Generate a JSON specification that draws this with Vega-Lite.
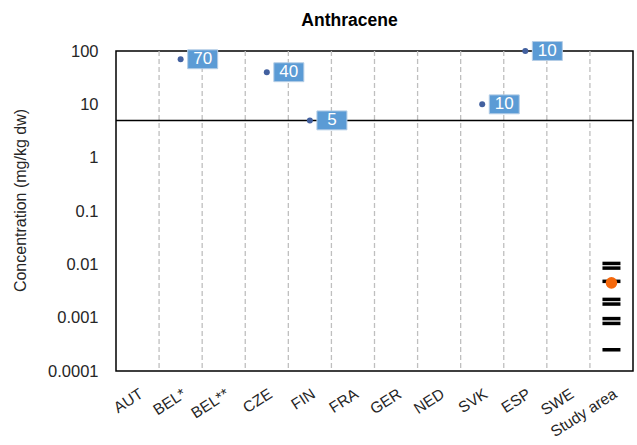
{
  "$schema": "https://vega.github.io/schema/vega-lite/v6.json",
  "autosize": "none",
  "width": 517,
  "height": 320,
  "padding": {"left": 116, "top": 51, "right": 4, "bottom": 74},
  "background": "white",
  "config": {
    "font": "Liberation Sans",
    "view": {"stroke": "black", "strokeWidth": 1.5}
  },
  "title": {"text": "Anthracene", "fontSize": 17.5, "fontWeight": "bold", "color": "black", "anchor": "middle", "dx": -25, "offset": 10},
  "datasets": {
    "cats": [
      {"country": "AUT"}, {"country": "BEL*"}, {"country": "BEL**"}, {"country": "CZE"},
      {"country": "FIN"}, {"country": "FRA"}, {"country": "GER"}, {"country": "NED"},
      {"country": "SVK"}, {"country": "ESP"}, {"country": "SWE"}, {"country": "Study area"}
    ],
    "limits": [
      {"country": "BEL*", "value": 70, "label": "70"},
      {"country": "CZE", "value": 40, "label": "40"},
      {"country": "FIN", "value": 5, "label": "5"},
      {"country": "SVK", "value": 10, "label": "10"},
      {"country": "ESP", "value": 100, "label": "10"}
    ],
    "samples": [
      {"country": "Study area", "value": 0.0104},
      {"country": "Study area", "value": 0.0085},
      {"country": "Study area", "value": 0.0048},
      {"country": "Study area", "value": 0.0022},
      {"country": "Study area", "value": 0.0018},
      {"country": "Study area", "value": 0.00096},
      {"country": "Study area", "value": 0.00078},
      {"country": "Study area", "value": 0.00025}
    ],
    "mean": [{"country": "Study area", "value": 0.0045}],
    "threshold": [{"value": 5}]
  },
  "layer": [
    {
      "data": {"name": "cats"},
      "transform": [{"filter": "datum.country !== 'AUT'"}],
      "mark": {"type": "rule", "color": "#BFBFBF", "strokeWidth": 1.3, "strokeDash": [5, 3]},
      "encoding": {
        "x": {"field": "country", "type": "nominal", "bandPosition": 0,
              "scale": {"domain": ["AUT", "BEL*", "BEL**", "CZE", "FIN", "FRA", "GER", "NED", "SVK", "ESP", "SWE", "Study area"], "paddingInner": 0, "paddingOuter": 0},
              "axis": {"title": null, "labelAngle": -33, "labelAlign": "right", "labelBaseline": "top", "labelPadding": 15, "ticks": false, "domain": false, "grid": false, "labelFontSize": 15.5, "labelColor": "#262626", "labelLimit": 200}}
      }
    },
    {
      "data": {"name": "threshold"},
      "mark": {"type": "rule", "color": "black", "strokeWidth": 1.5},
      "encoding": {
        "y": {"field": "value", "type": "quantitative"}
      }
    },
    {
      "data": {"name": "samples"},
      "mark": {"type": "tick", "color": "black", "size": 18, "thickness": 3.5, "opacity": 1},
      "encoding": {
        "x": {"field": "country", "type": "nominal"},
        "y": {"field": "value", "type": "quantitative"}
      }
    },
    {
      "data": {"name": "mean"},
      "mark": {"type": "point", "filled": true, "color": "#F5680C", "size": 135, "opacity": 1},
      "encoding": {
        "x": {"field": "country", "type": "nominal"},
        "y": {"field": "value", "type": "quantitative"}
      }
    },
    {
      "data": {"name": "limits"},
      "mark": {"type": "point", "filled": true, "color": "#42609F", "size": 36, "opacity": 1},
      "encoding": {
        "x": {"field": "country", "type": "nominal"},
        "y": {"field": "value", "type": "quantitative",
              "scale": {"type": "log", "domain": [0.0001, 100], "nice": false},
              "axis": {"title": "Concentration (mg/kg dw)", "values": [0.0001, 0.001, 0.01, 0.1, 1, 10, 100], "format": "~g", "ticks": false, "domain": false, "grid": false, "labelPadding": 18, "labelFontSize": 16.5, "labelColor": "#262626", "titleFontSize": 16, "titleFontWeight": "normal", "titleColor": "#262626", "titleX": -96, "titleY": 149, "titleAlign": "center", "titleBaseline": "middle", "titleAngle": -90}}
      }
    },
    {
      "data": {"name": "limits"},
      "mark": {"type": "point", "filled": true, "shape": "M0.47,-0.63H2.47V0.63H0.47Z", "size": 900, "fill": "#5B9BD5", "stroke": "#B4CDE6", "strokeWidth": 1, "opacity": 1, "fillOpacity": 1},
      "encoding": {
        "x": {"field": "country", "type": "nominal"},
        "y": {"field": "value", "type": "quantitative"}
      }
    },
    {
      "data": {"name": "limits"},
      "mark": {"type": "text", "color": "white", "fontSize": 17, "dx": 22, "align": "center", "baseline": "middle", "font": "Liberation Sans"},
      "encoding": {
        "x": {"field": "country", "type": "nominal"},
        "y": {"field": "value", "type": "quantitative"},
        "text": {"field": "label"}
      }
    }
  ]
}
